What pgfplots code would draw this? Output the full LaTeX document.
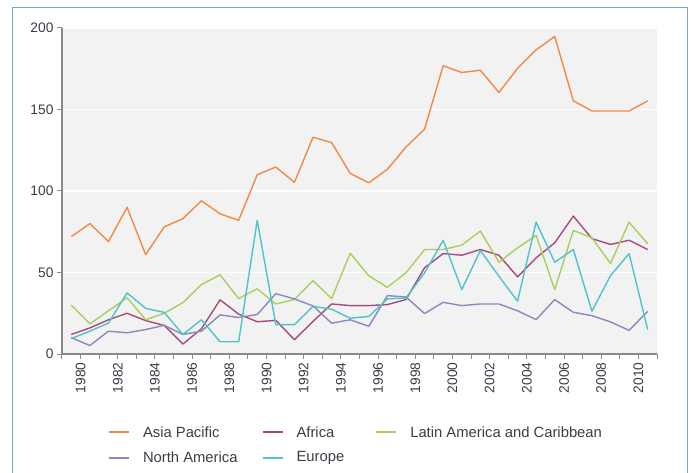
\documentclass[border=0pt]{standalone}
\usepackage{pgfplots}
\usepackage{pgfplotstable}
\pgfplotsset{compat=1.18}
\usepackage{fontspec}
\setmainfont{Liberation Sans}
\definecolor{cAsia}{HTML}{F08A45}
\definecolor{cAfrica}{HTML}{A64A80}
\definecolor{cLatin}{HTML}{A9CF5B}
\definecolor{cNA}{HTML}{8D88BC}
\definecolor{cEurope}{HTML}{4DC4CC}
\definecolor{bggray}{HTML}{F2F2F2}
\definecolor{axisgray}{HTML}{8A8A8A}
\definecolor{labelgray}{HTML}{3C3C48}
\definecolor{frameblue}{HTML}{7AA5D2}
\pgfplotstableread{
year asia africa latin na europe
1980 72 12 30 10 9.5
1981 80 16 18.5 5.2 14
1982 69 21 26.5 14 19
1983 90 25 34.5 13 37.5
1984 61 20.5 21 15 28
1985 78 17.5 25 17.6 25.5
1986 83 6.1 31.5 12 12
1987 94 15.5 42.6 14 21
1988 86 33.2 48.6 24 7.5
1989 82 24.5 34 22.4 7.5
1990 110 19.8 40 24.2 82
1991 114.7 20.6 30.7 37 18
1992 105.3 8.8 33.4 33.8 18
1993 133 20 45 29.5 29.2
1994 129.7 30.7 34 18.9 27.5
1995 110.8 29.7 61.8 21 22
1996 105 29.7 48 17 23
1997 113.3 30.3 40.9 35.8 33.8
1998 127 33.4 49.8 35 34.4
1999 138 52.9 64.1 24.8 49.8
2000 176.8 61.6 64.1 31.7 69.8
2001 172.7 60.6 66.8 29.7 39.5
2002 174.1 64.1 75.4 30.7 63.5
2003 160.4 60.6 56.3 30.7 47.7
2004 175.2 47.3 65.1 26.5 32.4
2005 186.6 59 72.7 21.1 80.9
2006 194.8 68.2 39.5 33.4 56.3
2007 155.3 84.6 75.8 25.6 64.1
2008 149.1 70.8 71.3 23.5 26.2
2009 149.1 67.2 55.5 19.7 48.1
2010 149.1 69.8 80.9 14.5 61.6
2011 155.3 64.1 67.6 26.2 15
}\datatable
\begin{document}
\begin{tikzpicture}
\useasboundingbox (0bp,0bp) rectangle (691bp,473bp);
\draw[frameblue, line width=1bp] (12bp,-5bp) -- (12bp,465.5bp) -- (687bp,465.5bp) -- (687bp,-5bp);
\begin{axis}[
  at={(62bp,119bp)}, anchor=south west,
  scale only axis, width=595bp, height=326bp,
  xmin=1979.5, xmax=2011.5, ymin=0, ymax=200,
  enlargelimits=false,
  axis x line=bottom, axis y line=left,
  axis line style={-, draw=axisgray, line width=1.2bp},
  axis background/.style={fill=bggray},
  ymajorgrids, major grid style={white, line width=1.2bp},
  ytick={0,50,100,150,200},
  xtick={1979.5,1980.5,...,2011.5},
  xticklabels={,1980,,1982,,1984,,1986,,1988,,1990,,1992,,1994,,1996,,1998,,2000,,2002,,2004,,2006,,2008,,2010,},
  tick align=outside, major tick length=5bp,
  tick style={draw=axisgray, line width=1bp},
  /pgf/number format/assume math mode=true,
  tick label style={font=\fontsize{13.8bp}{16bp}\selectfont, text=labelgray},
  x tick label style={rotate=90, anchor=east},
  legend columns=3,
  legend cell align=left,
  legend image code/.code={\draw[#1, line width=2bp] (0bp,0bp) -- (20bp,0bp);},
  legend style={at={(axis description cs:0.077,-0.215)}, anchor=north west,
    draw=none, fill=none, inner sep=0pt,
    font=\fontsize{14.8bp}{17bp}\selectfont, text=labelgray,
    row sep=9bp,
    /tikz/every odd column/.append style={column sep=11bp},
    /tikz/column 2/.append style={column sep=22bp},
    /tikz/column 4/.append style={column sep=29bp}},
  every axis plot/.append style={line width=1.4bp, line join=round},
]
\addplot[cAsia] table[x=year, y=asia] {\datatable};
\addlegendentry{Asia Pacific}
\addplot[cAfrica] table[x=year, y=africa] {\datatable};
\addlegendentry{Africa}
\addplot[cLatin] table[x=year, y=latin] {\datatable};
\addlegendentry{Latin America and Caribbean}
\addplot[cNA] table[x=year, y=na] {\datatable};
\addlegendentry{North America}
\addplot[cEurope] table[x=year, y=europe] {\datatable};
\addlegendentry{Europe}
\end{axis}
\end{tikzpicture}
\end{document}
